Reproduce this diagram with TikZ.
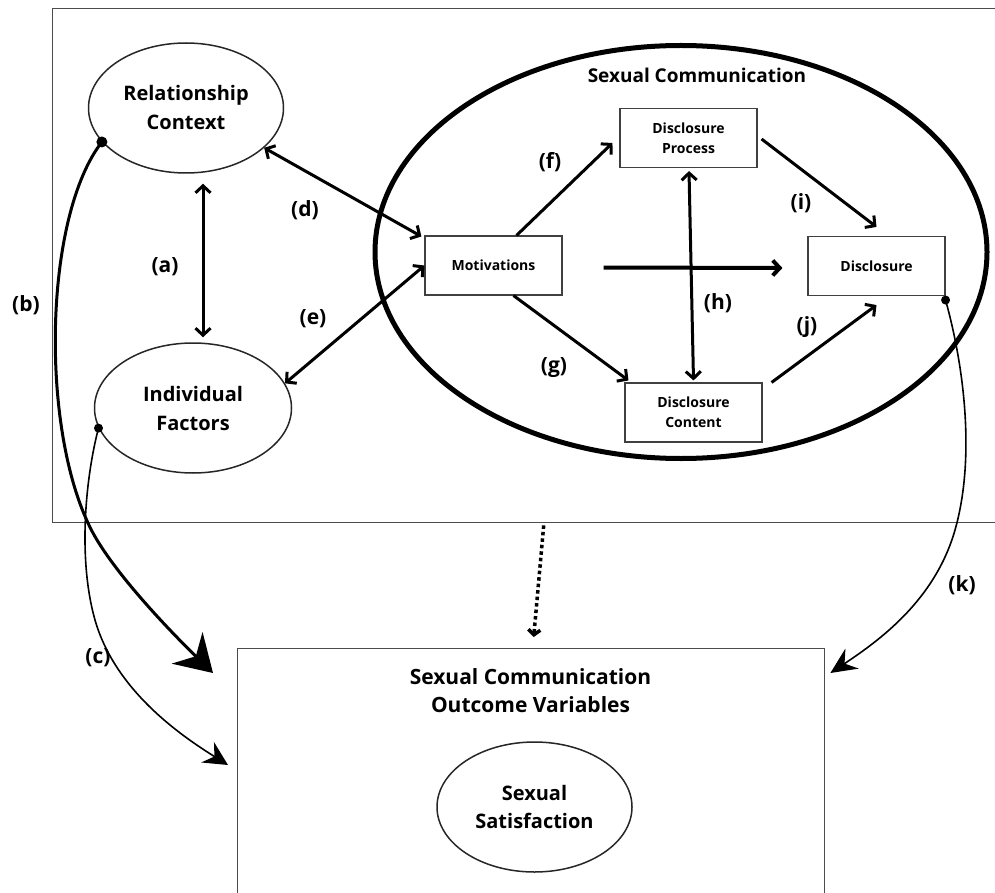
\documentclass[tikz,border=0pt]{standalone}
\usepackage{fontspec}
\setmainfont{Open Sans}
\usetikzlibrary{arrows.meta,calc,shapes.geometric}

\begin{document}
\begin{tikzpicture}[x=1pt,y=-1pt,
  lbl/.style={font=\bfseries\fontsize{21}{24}\selectfont, inner sep=0pt},
  oval/.style={ellipse, draw=black!85, line width=1.5pt, inner sep=0pt,
    minimum width=195pt, minimum height=130pt, align=center,
    font=\bfseries\fontsize{20}{29}\selectfont},
  stage/.style={rectangle, draw=black!75, line width=1.1pt, inner sep=0pt,
    minimum width=137pt, minimum height=59pt, align=center,
    font=\bfseries\fontsize{14}{20}\selectfont},
  panel/.style={rectangle, draw=black!70, line width=1.4pt, inner sep=0pt, anchor=north west},
  barb/.tip={Straight Barb[length=7pt,width=15pt]},
  link/.style={line width=3pt, -barb},
  both/.style={line width=3pt, barb-barb},
]
\useasboundingbox (0,0) rectangle (995,893);
\clip (0,0) rectangle (995,893);

% frames
\node[panel, minimum width=980pt, minimum height=514pt] (frame) at (52,8) {};
\node[panel, minimum width=587pt, minimum height=300pt] (ob) at (237,648) {};

% left-hand constructs
\node[oval] (rc) at (186,108) {Relationship\\Context};
\node[oval, minimum width=197pt] (if) at (193,408) {Individual\\Factors};

% sexual communication block
\node[ellipse, draw, line width=5pt, inner sep=0pt,
      minimum width=612pt, minimum height=413pt] (sc) at (681,252) {};
\node[font=\bfseries\fontsize{19}{22}\selectfont] (sctitle) at (697,75) {Sexual Communication};

\node[stage] (mot) at (493.5,265.5) {Motivations};
\node[stage] (dp)  at (688.5,138)   {Disclosure\\Process};
\node[stage] (dis) at (876.5,266)   {Disclosure};
\node[stage] (dc)  at (693.5,412.5) {Disclosure\\Content};

% outcome block
\node[font=\bfseries\fontsize{21}{28}\selectfont, align=center] (obtitle) at (530.5,691)
  {Sexual Communication\\Outcome Variables};
\node[oval, font=\bfseries\fontsize{20}{28}\selectfont] (ss) at (534.5,807) {Sexual\\Satisfaction};

% paths among constructs
\draw[both] ($(rc.south)+(17,10)$) -- ($(if.north)+(10,-5)$);
\draw[both] (rc.333) -- ($(mot.north west)+(-3,1)$);
\draw[both] (if.15) -- (mot.west);
\draw[link] ($(mot.north)+(23,0)$) -- ($(dp.west)+(-7,5)$);
\draw[link] ($(mot.south)+(20,0)$) -- ($(dc.north west)+(4,-2)$);
\draw[link, line width=4pt] ($(mot.east)+(41,2)$) -- ($(dis.west)+(-25,2)$);
\draw[both] ($(dp.south)+(0.5,3)$) -- ($(dc.north)+(0,-2)$);
\draw[link] ($(dp.east)+(4,1)$) -- ($(dis.north)+(0,-9)$);
\draw[link] ($(dc.north east)+(9,0)$) -- ($(dis.south)+(0,9)$);

% dotted path to outcomes
\draw[line width=3.5pt, dash pattern=on 3.5pt off 3pt,
      -{Straight Barb[length=5pt,width=12pt]}]
  ($(frame.south)+(1,2)$) -- ($(ob.north)+(2.5,-11)$);

% curved paths to outcomes
\draw[line width=3pt, -{Stealth[length=36pt,width=44pt,inset=12pt]}]
  (rc.202) .. controls (45,215) and (40,420) .. (88,523)
  .. controls (108,568) and (175,636) .. ($(ob.north west)+(-24,25)$);
\fill (rc.202) circle[radius=5.5pt];

\draw[line width=1.6pt, -{Stealth[length=24pt,width=24pt,inset=8pt]}]
  (if.192) .. controls (85,480) and (78,560) .. (95,620)
  .. controls (115,690) and (180,735) .. ($(ob.north west)+(-9,117)$);
\fill (if.192) circle[radius=4.5pt];

\draw[line width=1.6pt, -{Stealth[length=26pt,width=24pt,inset=9pt]}]
  ($(dis.south east)+(0,4)$) .. controls (965,370) and (975,460) .. (955,530)
  .. controls (935,600) and (880,640) .. ($(ob.north east)+(5,25)$);
\fill ($(dis.south east)+(0,4)$) circle[radius=4.5pt];

% path labels
\node[lbl] (la) at (165,267) {(a)};
\node[lbl] (lb) at (26,305)  {(b)};
\node[lbl] (lc) at (98,658)  {(c)};
\node[lbl] (ld) at (305,210) {(d)};
\node[lbl] (le) at (313,319) {(e)};
\node[lbl] (lf) at (550,162) {(f)};
\node[lbl] (lg) at (554,368) {(g)};
\node[lbl] (lh) at (718,303) {(h)};
\node[lbl] (li) at (801,203) {(i)};
\node[lbl] (lj) at (807,327) {(j)};
\node[lbl] (lk) at (962,585) {(k)};
\end{tikzpicture}
\end{document}
